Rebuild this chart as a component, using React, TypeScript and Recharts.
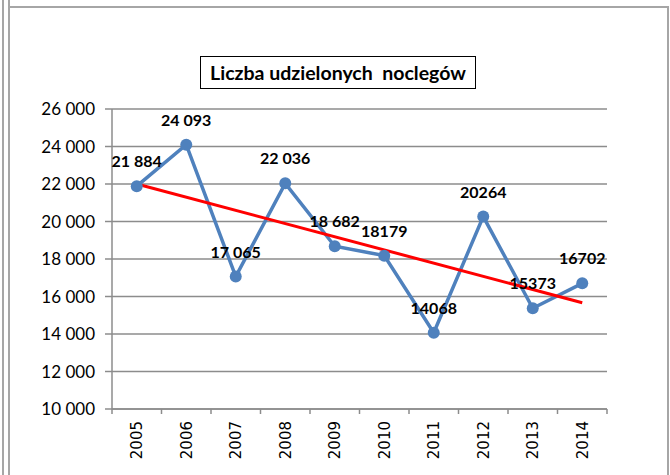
import { LineChart, Line, XAxis, YAxis, CartesianGrid, LabelList } from "recharts"

const YEARS = ["2005", "2006", "2007", "2008", "2009", "2010", "2011", "2012", "2013", "2014"]
const NOCLEGI = [21884, 24093, 17065, 22036, 18682, 18179, 14068, 20264, 15373, 16702]
const LABELS = ["21 884", "24 093", "17 065", "22 036", "18 682", "18179", "14068", "20264", "15373", "16702"]
// linia trendu: tylko początek i koniec
const TREND = [22000, null, null, null, null, null, null, null, null, 15670]
const Y_TICKS = [10000, 12000, 14000, 16000, 18000, 20000, 22000, 24000, 26000]

const data = YEARS.map((year, i) => ({ year, value: NOCLEGI[i], trend: TREND[i] }))

const BLUE = "#4f81bd"
const GRAY = "#8c8c8c"
const W = 670
const H = 475
const PLOT_LEFT = 112
const PLOT_RIGHT = 607
const HALF = (PLOT_RIGHT - PLOT_LEFT) / YEARS.length / 2

const fmt = (v: number) => String(v).replace(/\B(?=(\d{3})+(?!\d))/g, " ")

function YearTick(props: any) {
  const { x, y, payload, index } = props
  const last = index === YEARS.length - 1
  return (
    <g>
      <line x1={x - HALF} y1={y} x2={x - HALF} y2={y + 5} stroke={GRAY} strokeWidth={1.5} />
      {last && <line x1={x + HALF} y1={y} x2={x + HALF} y2={y + 5} stroke={GRAY} strokeWidth={1.5} />}
      <text
        transform={`translate(${x},${y + 12}) rotate(-90)`}
        textAnchor="end"
        dy="0.36em"
        fontFamily="DejaVu Sans"
        fontSize={15}
        fill="#000"
      >
        {payload.value}
      </text>
    </g>
  )
}

function PointLabel(props: any) {
  const { x, y, index } = props
  return (
    <text x={x} y={y - 19} textAnchor="middle" fontFamily="Lato" fontWeight="bold" fontSize={16} fill="#000">
      {LABELS[index]}
    </text>
  )
}

export default function App() {
  return (
    <div style={{ position: "absolute", left: 0, top: 0, width: W, height: H, background: "#fff", overflow: "hidden" }}>
      <LineChart width={W} height={H} data={data} margin={{ top: 109, right: W - PLOT_RIGHT, bottom: 0, left: 0 }}>
        <CartesianGrid vertical={false} stroke={GRAY} strokeWidth={1.5} />
        <XAxis
          dataKey="year"
          height={H - 409}
          padding={{ left: HALF, right: HALF }}
          axisLine={{ stroke: GRAY, strokeWidth: 1.5 }}
          tickLine={false}
          tickSize={0}
          tickMargin={0}
          interval={0}
          tick={<YearTick />}
        />
        <YAxis
          width={PLOT_LEFT}
          domain={[10000, 26000]}
          ticks={Y_TICKS}
          interval={0}
          tickFormatter={fmt}
          axisLine={{ stroke: GRAY, strokeWidth: 1.5 }}
          tickLine={{ stroke: GRAY, strokeWidth: 1.5 }}
          tickSize={7}
          tickMargin={10}
          tick={{ fill: "#000", fontFamily: "Lato", fontSize: 17 }}
        />
        <Line
          dataKey="value"
          stroke={BLUE}
          strokeWidth={3.5}
          dot={{ r: 6, fill: BLUE, stroke: "none" }}
          activeDot={false}
          isAnimationActive={false}
        />
        <Line
          dataKey="trend"
          stroke="#ff0000"
          strokeWidth={3}
          connectNulls
          dot={false}
          activeDot={false}
          isAnimationActive={false}
        />
        <Line dataKey="value" stroke="none" dot={false} activeDot={false} isAnimationActive={false}>
          <LabelList dataKey="value" content={<PointLabel />} />
        </Line>
      </LineChart>
      <div
        style={{
          position: "absolute",
          left: 200,
          top: 56,
          width: 274,
          height: 31,
          border: "1px solid #000",
          background: "#fff",
          display: "flex",
          alignItems: "center",
          justifyContent: "center",
          fontFamily: "Lato",
          fontWeight: "bold",
          fontSize: 19.5,
          whiteSpace: "pre",
        }}
      >
        Liczba udzielonych  noclegów
      </div>
      <div style={{ position: "absolute", left: 2, top: 0, width: 2, height: H, background: "#a6a6a6" }} />
      <div style={{ position: "absolute", left: 8, top: 0, width: 2, height: H, background: "#a6a6a6" }} />
      <div style={{ position: "absolute", left: 8, top: 6, width: 661, height: 2, background: "#a6a6a6" }} />
      <div style={{ position: "absolute", left: 667, top: 6, width: 2, height: H, background: "#a6a6a6" }} />
    </div>
  )
}
